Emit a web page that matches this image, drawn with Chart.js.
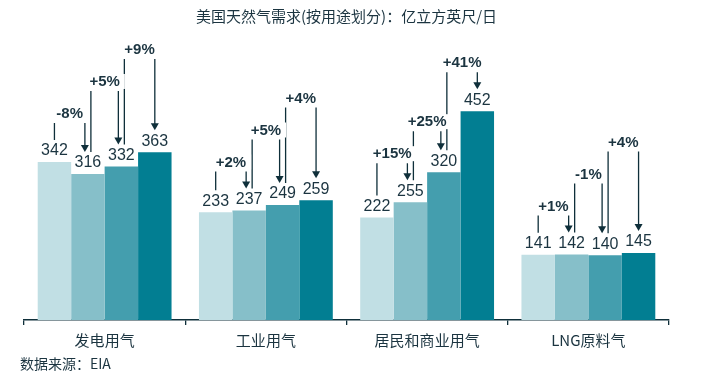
<!DOCTYPE html>
<html>
<head>
<meta charset="utf-8">
<script src="https://cdn.jsdelivr.net/npm/chart.js@4"></script>
<style>
  body { margin: 0; background: #fff; }
  #wrap { width: 709px; height: 386px; }
</style>
</head>
<body>
<div id="wrap"><canvas id="chartDemand" width="709" height="386"></canvas></div>
<script>
(() => {
    // 类别与数据（亿立方英尺/日）
    const categories = ["发电用气", "工业用气", "居民和商业用气", "LNG原料气"];
    const series1 = [342, 233, 222, 141];
    const series2 = [316, 237, 255, 142];
    const series3 = [332, 249, 320, 140];
    const series4 = [363, 259, 452, 145];
    // 相邻柱之间的变化标注
    const changeLabels = [
        ["-8%", "+5%", "+9%"],
        ["+2%", "+5%", "+4%"],
        ["+15%", "+25%", "+41%"],
        ["+1%", "-1%", "+4%"]
    ];
    const seriesNames = ["系列1", "系列2", "系列3", "系列4"];
    const colors = ["#c1dfe4", "#86bfc9", "#449eae", "#027e92"];

    const textColor = "#1b3440";
    const lineColor = "#0f2f3a";

    // 数值标签 + 变化箭头 + 来源
    const annotatePlugin = {
        id: "annotate",
        afterDatasetsDraw(chart) {
            const ctx = chart.ctx;
            const metas = chart.data.datasets.map((d, i) => chart.getDatasetMeta(i));

            ctx.save();
            // 柱顶数值
            ctx.fillStyle = textColor;
            ctx.font = "16px 'Liberation Sans', Arial, sans-serif";
            ctx.textAlign = "center";
            ctx.textBaseline = "middle";
            metas.forEach((meta, di) => {
                meta.data.forEach((bar, ci) => {
                    ctx.fillText(chart.data.datasets[di].data[ci], bar.x, bar.y - 11);
                });
            });

            // 箭头线
            const boxes = [];
            ctx.strokeStyle = lineColor;
            ctx.fillStyle = lineColor;
            ctx.lineWidth = 1.3;
            categories.forEach((cat, ci) => {
                let level = null;
                for (let k = 0; k < 3; k++) {
                    const a = metas[k].data[ci];
                    const b = metas[k + 1].data[ci];
                    const topY = Math.min(a.y, b.y) - 39;
                    level = level === null ? topY : Math.min(level - 32, topY);
                    const x1 = a.x + (k === 0 ? 0 : 3);
                    const x2 = b.x - (k + 1 === 3 ? 0 : 3);
                    const y1 = a.y - 22;
                    const y2 = b.y - 22;

                    ctx.beginPath();
                    ctx.moveTo(x1, level);
                    ctx.lineTo(x1, y1);
                    ctx.moveTo(x2, level);
                    ctx.lineTo(x2, y2 - 6);
                    ctx.stroke();

                    ctx.beginPath();
                    ctx.moveTo(x2 - 4, y2 - 7);
                    ctx.lineTo(x2 + 4, y2 - 7);
                    ctx.lineTo(x2, y2);
                    ctx.closePath();
                    ctx.fill();

                    boxes.push({ text: changeLabels[ci][k], x: (x1 + x2) / 2, y: level - 9 });
                }
            });

            // 百分比标签（白底）
            ctx.font = "bold 15px 'Liberation Sans', Arial, sans-serif";
            boxes.forEach(b => {
                const w = ctx.measureText(b.text).width + 10;
                ctx.fillStyle = "#fff";
                ctx.fillRect(b.x - w / 2, b.y - 8, w, 15);
                ctx.fillStyle = textColor;
                ctx.fillText(b.text, b.x, b.y);
            });

            // 来源
            ctx.font = "14px 'Noto Sans CJK SC', sans-serif";
            ctx.textAlign = "left";
            ctx.fillStyle = textColor;
            ctx.fillText("数据来源：EIA", 20, 364);
            ctx.restore();
        }
    };

    const ctx = document.getElementById("chartDemand");
    new Chart(ctx, {
        type: "bar",
        data: {
            labels: categories,
            datasets: [series1, series2, series3, series4].map((s, i) => ({
                label: seriesNames[i],
                data: s,
                backgroundColor: colors[i],
                barPercentage: 1,
                categoryPercentage: 0.83
            }))
        },
        options: {
            responsive: false,
            animation: false,
            layout: { padding: { left: 24, right: 40, top: 0, bottom: 31 } },
            plugins: {
                legend: { display: false },
                tooltip: { enabled: false },
                title: {
                    display: true,
                    text: "美国天然气需求(按用途划分)：亿立方英尺/日",
                    color: textColor,
                    font: { family: "'Noto Sans CJK SC', sans-serif", size: 15, weight: "normal" },
                    padding: { top: 7, bottom: 15 }
                }
            },
            scales: {
                y: { display: false, min: 0, max: 606 },
                x: {
                    grid: {
                        display: true,
                        drawOnChartArea: false,
                        drawTicks: true,
                        tickLength: 5,
                        color: lineColor,
                        lineWidth: 1.3
                    },
                    border: { display: true, color: lineColor, width: 1.5 },
                    ticks: {
                        color: textColor,
                        padding: 6,
                        font: { family: "'Noto Sans CJK SC', sans-serif", size: 15 }
                    }
                }
            }
        },
        plugins: [annotatePlugin]
    });
})();
</script>
</body>
</html>
